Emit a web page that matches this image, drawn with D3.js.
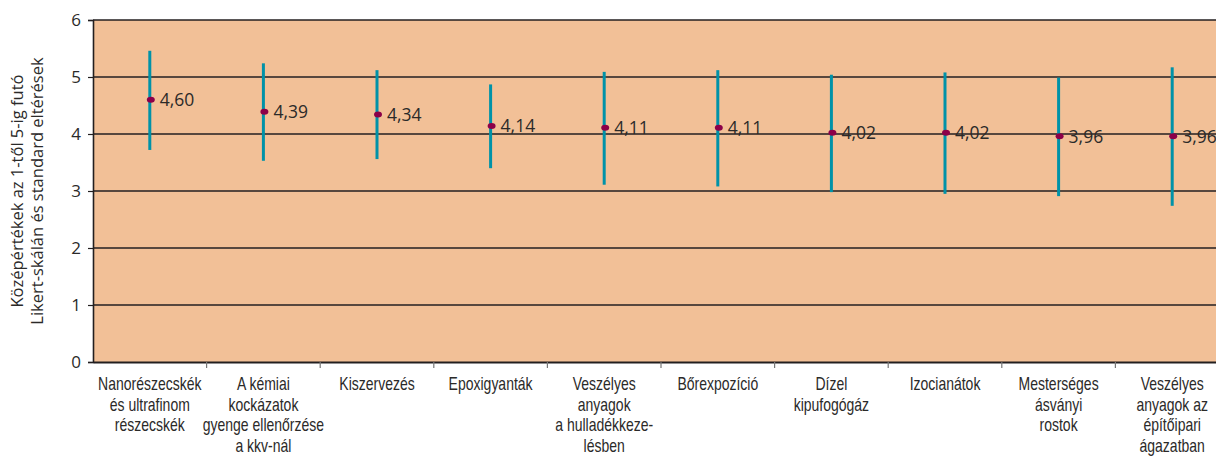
<!DOCTYPE html>
<html><head><meta charset="utf-8">
<script src="https://cdn.jsdelivr.net/npm/d3@7"></script>
<style>
body{margin:0;background:#fff;}
svg{display:block;}
</style></head>
<body>
<svg id="chart" width="1216" height="456"></svg>
<script>
const categories = [
  ["Nanorészecskék","és ultrafinom","részecskék"],
  ["A kémiai","kockázatok","gyenge ellenőrzése","a kkv-nál"],
  ["Kiszervezés"],
  ["Epoxigyanták"],
  ["Veszélyes","anyagok","a hulladékkeze-","lésben"],
  ["Bőrexpozíció"],
  ["Dízel","kipufogógáz"],
  ["Izocianátok"],
  ["Mesterséges","ásványi","rostok"],
  ["Veszélyes","anyagok az","építőipari","ágazatban"]
];
const means = [4.60,4.39,4.34,4.14,4.11,4.11,4.02,4.02,3.96,3.96];
const upper = [5.46,5.24,5.12,4.87,5.09,5.12,5.04,5.08,4.99,5.17];
const lower = [3.72,3.53,3.56,3.40,3.11,3.08,2.98,2.95,2.91,2.74];
const valueLabels = ["4,60","4,39","4,34","4,14","4,11","4,11","4,02","4,02","3,96","3,96"];
const yTicks = [0,1,2,3,4,5,6];
const yTitle = ["Középértékek az 1-től 5-ig futó","Likert-skálán és standard eltérések"];

(function(){
const svg = d3.select("#chart");
const mL = 93, mR = 1229, mT = 20, mB = 362;
const idx = categories.map((d,i)=>i);
const x = d3.scaleBand().domain(idx).range([mL,mR]).padding(0);
const y = d3.scaleLinear().domain([0,6]).range([mB,mT]);
const textCol = "#2b2a29";

svg.append("rect").attr("x",mL).attr("y",mT)
  .attr("width",mR-mL).attr("height",mB-mT).attr("fill","#F2C097");

svg.append("g").selectAll("line").data(yTicks.filter(t=>t>0)).join("line")
  .attr("x1",mL).attr("x2",mR).attr("y1",d=>y(d)).attr("y2",d=>y(d))
  .attr("stroke","#231f20").attr("stroke-width",1.4);

const yAxis = svg.append("g").attr("transform",`translate(${mL},0)`)
  .call(d3.axisLeft(y).tickValues(yTicks).tickFormat(d3.format("d")).tickSize(5).tickPadding(7));
yAxis.select(".domain").attr("stroke","#231f20").attr("stroke-width",1.6);
yAxis.selectAll(".tick line").attr("stroke","#231f20").attr("stroke-width",1.2);
yAxis.selectAll(".tick text").attr("fill",textCol)
  .style("font-family","'Open Sans', sans-serif").style("font-size","17px");

const xAxis = svg.append("g").attr("transform",`translate(0,${mB})`)
  .call(d3.axisBottom(x).tickSize(0).tickFormat(""));
xAxis.select(".domain").attr("stroke","#231f20").attr("stroke-width",2);
svg.append("g").selectAll("line").data(idx.slice(1)).join("line")
  .attr("x1",d=>x(d)).attr("x2",d=>x(d)).attr("y1",mB).attr("y2",mB+6)
  .attr("stroke","#777").attr("stroke-width",1.2);

const catG = svg.append("g").selectAll("text").data(categories).join("text")
  .attr("transform",(d,i)=>`translate(${x(i)+x.bandwidth()/2},${mB+28}) scale(0.8,1)`)
  .attr("text-anchor","middle")
  .attr("fill",textCol)
  .style("font-family","'Liberation Sans', Arial, sans-serif")
  .style("font-size","17.5px");
catG.selectAll("tspan").data(d=>d).join("tspan")
  .attr("x",0)
  .attr("dy",(d,i)=>i===0?0:20.7)
  .text(d=>d);

svg.append("g").selectAll("line").data(idx).join("line")
  .attr("x1",i=>x(i)+x.bandwidth()/2).attr("x2",i=>x(i)+x.bandwidth()/2)
  .attr("y1",i=>y(upper[i])).attr("y2",i=>y(lower[i]))
  .attr("stroke","#0092A8").attr("stroke-width",3);

svg.append("g").selectAll("ellipse").data(idx).join("ellipse")
  .attr("cx",i=>x(i)+x.bandwidth()/2+1).attr("cy",i=>y(means[i]))
  .attr("rx",4).attr("ry",3).attr("fill","#8C0049");

svg.append("g").selectAll("text").data(idx).join("text")
  .attr("x",i=>x(i)+x.bandwidth()/2+10).attr("y",i=>y(means[i]))
  .attr("dy","0.36em")
  .attr("fill",textCol)
  .style("font-family","'Open Sans', sans-serif").style("font-size","17.5px")
  .text(i=>valueLabels[i]);

const tg = svg.append("text")
  .attr("transform",`translate(23,${(mT+mB)/2}) rotate(-90)`)
  .attr("text-anchor","middle").attr("fill",textCol)
  .style("font-family","'Open Sans', sans-serif").style("font-size","16.5px");
tg.selectAll("tspan").data(yTitle).join("tspan")
  .attr("x",0).attr("dy",(d,i)=>i===0?0:20).text(d=>d);
})();
</script>
</body></html>
